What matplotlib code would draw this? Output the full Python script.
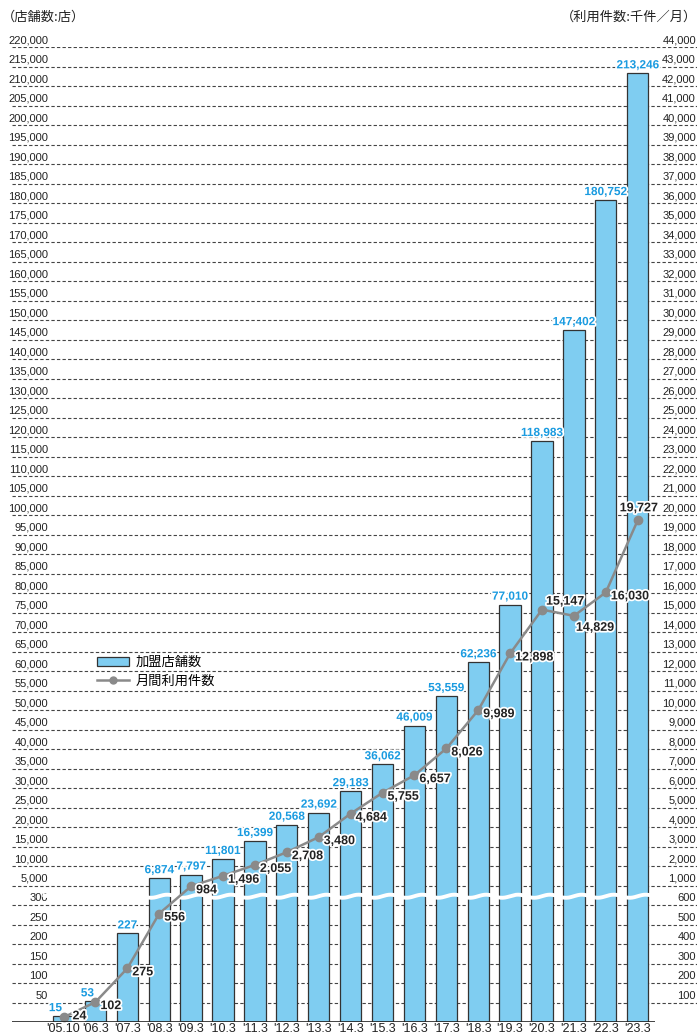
import numpy as np
import matplotlib.pyplot as plt
import matplotlib.transforms as mtransforms
import matplotlib.patheffects as pe
from matplotlib.patches import Patch
from matplotlib.lines import Line2D

years = ["'05.10", "'06.3", "'07.3", "'08.3", "'09.3", "'10.3", "'11.3", "'12.3",
         "'13.3", "'14.3", "'15.3", "'16.3", "'17.3", "'18.3", "'19.3", "'20.3",
         "'21.3", "'22.3", "'23.3"]
stores = [15, 53, 227, 6874, 7797, 11801, 16399, 20568, 23692, 29183, 36062,
          46009, 53559, 62236, 77010, 118983, 147402, 180752, 213246]
usage = [24, 102, 275, 556, 984, 1496, 2055, 2708, 3480, 4684, 5755, 6657,
         8026, 9989, 12898, 15147, 14829, 16030, 19727]

left_low = [50, 100, 150, 200, 250, 300]
left_high = list(range(5000, 220001, 5000))
right_low = [100, 200, 300, 400, 500, 600]
right_high = list(range(1000, 44001, 1000))

BLUE = '#7fcdf1'
LABEL_BLUE = '#1a9be0'
GREY = '#8a8a8a'


def left_u(v):
    # broken axis: 0-300 in 50 steps, then 5,000-220,000 in 5,000 steps
    if v <= 300:
        return v / 50
    return 7 + (v - 5000) / 5000


def right_u(v):
    if v <= 600:
        return v / 100
    if v < 1000:
        return 6 + (v - 600) / 400
    return 7 + (v - 1000) / 1000


W, H = 697, 1034
fig = plt.figure(figsize=(W / 100, H / 100), dpi=100)
ax = fig.add_axes([12 / W, 12 / H, (W - 12) / W, (1022 - 47) / H])
x0 = (12 - 63.5) / 31.9
x1 = (W - 63.5) / 31.9
ax.set_xlim(x0, x1)
ax.set_ylim(0, 50)
for s in ax.spines.values():
    s.set_visible(False)

num_font = ['Liberation Sans Narrow', 'Liberation Sans', 'DejaVu Sans']
jp_font = ['Noto Sans CJK JP', 'DejaVu Sans']

x = np.arange(len(years))
bar_u = [left_u(v) for v in stores]
line_u = [right_u(v) for v in usage]

# gridlines
for v in left_low + left_high:
    ax.axhline(left_u(v), color='#444444', lw=0.8, ls=(0, (3, 2)), zorder=1)
ax.plot([x0, (655 - 63.5) / 31.9], [0, 0], color='#222222', lw=1.2, zorder=6,
        solid_capstyle='butt')

# axis labels
tl = mtransforms.blended_transform_factory(fig.transFigure, ax.transData)
for v in left_low + left_high:
    ax.text(48 / W, left_u(v) + 0.08, f'{v:,}', transform=tl, ha='right', va='bottom',
            fontsize=8, color='#222222', family=num_font)
for v in right_low + right_high:
    ax.text(696 / W, right_u(v) + 0.08, f'{v:,}', transform=tl, ha='right', va='bottom',
            fontsize=8, color='#222222', family=num_font)

ax.bar(x, bar_u, width=0.67, color=BLUE, edgecolor='#333333', lw=0.9, zorder=3)

# wavy break
xw = np.linspace(-0.6, 18.6, 800)
ax.plot(xw, 6.45 + 0.08 * np.sin(2 * np.pi * xw), color='white', lw=2.8, zorder=4)

ax.plot(x, line_u, color=GREY, lw=1.8, marker='o', ms=6, zorder=5)

halo = [pe.withStroke(linewidth=2.5, foreground='white')]
bar_dx = [-8, -8] + [0] * 17
for i, v in enumerate(stores):
    ax.annotate(f'{v:,}', (x[i], bar_u[i]), xytext=(bar_dx[i], 2), textcoords='offset pixels',
                ha='center', va='bottom', fontsize=8.5, fontweight='bold', color=LABEL_BLUE,
                family=num_font, path_effects=halo, zorder=7)

line_off = [(9, 1)] + [(5, -4)] * 14 + [(4, 8), (2, -12), (5, -4), (-18, 12)]
for i, v in enumerate(usage):
    ax.annotate(f'{v:,}', (x[i], line_u[i]), xytext=line_off[i], textcoords='offset pixels',
                ha='left', va='center', fontsize=9, fontweight='bold', color='#222222',
                family=num_font, path_effects=halo, zorder=7)

ax.set_xticks(x)
ax.set_xticklabels(years, fontsize=9, color='#222222', family=num_font)
ax.tick_params(axis='x', length=0, pad=1)
ax.set_yticks([])

fig.text(2 / W, 1 - 17 / H, '（店舗数:店）', ha='left', va='center', fontsize=9.5,
         color='#222222', family=jp_font)
fig.text(697 / W, 1 - 17 / H, '（利用件数:千件／月）', ha='right', va='center', fontsize=9.5,
         color='#222222', family=jp_font)

handles = [Patch(facecolor=BLUE, edgecolor='#333333', lw=0.9),
           Line2D([], [], color=GREY, lw=1.8, marker='o', ms=5)]
fig.legend(handles, ['加盟店舗数', '月間利用件数'], loc='upper left',
           bbox_to_anchor=(97 / W, 1 - 656 / H), frameon=False, borderpad=0,
           borderaxespad=0, handlelength=2.4, handletextpad=0.5, labelspacing=0.45,
           prop={'family': jp_font, 'size': 9.5})

fig.savefig('out.png', dpi=100)
